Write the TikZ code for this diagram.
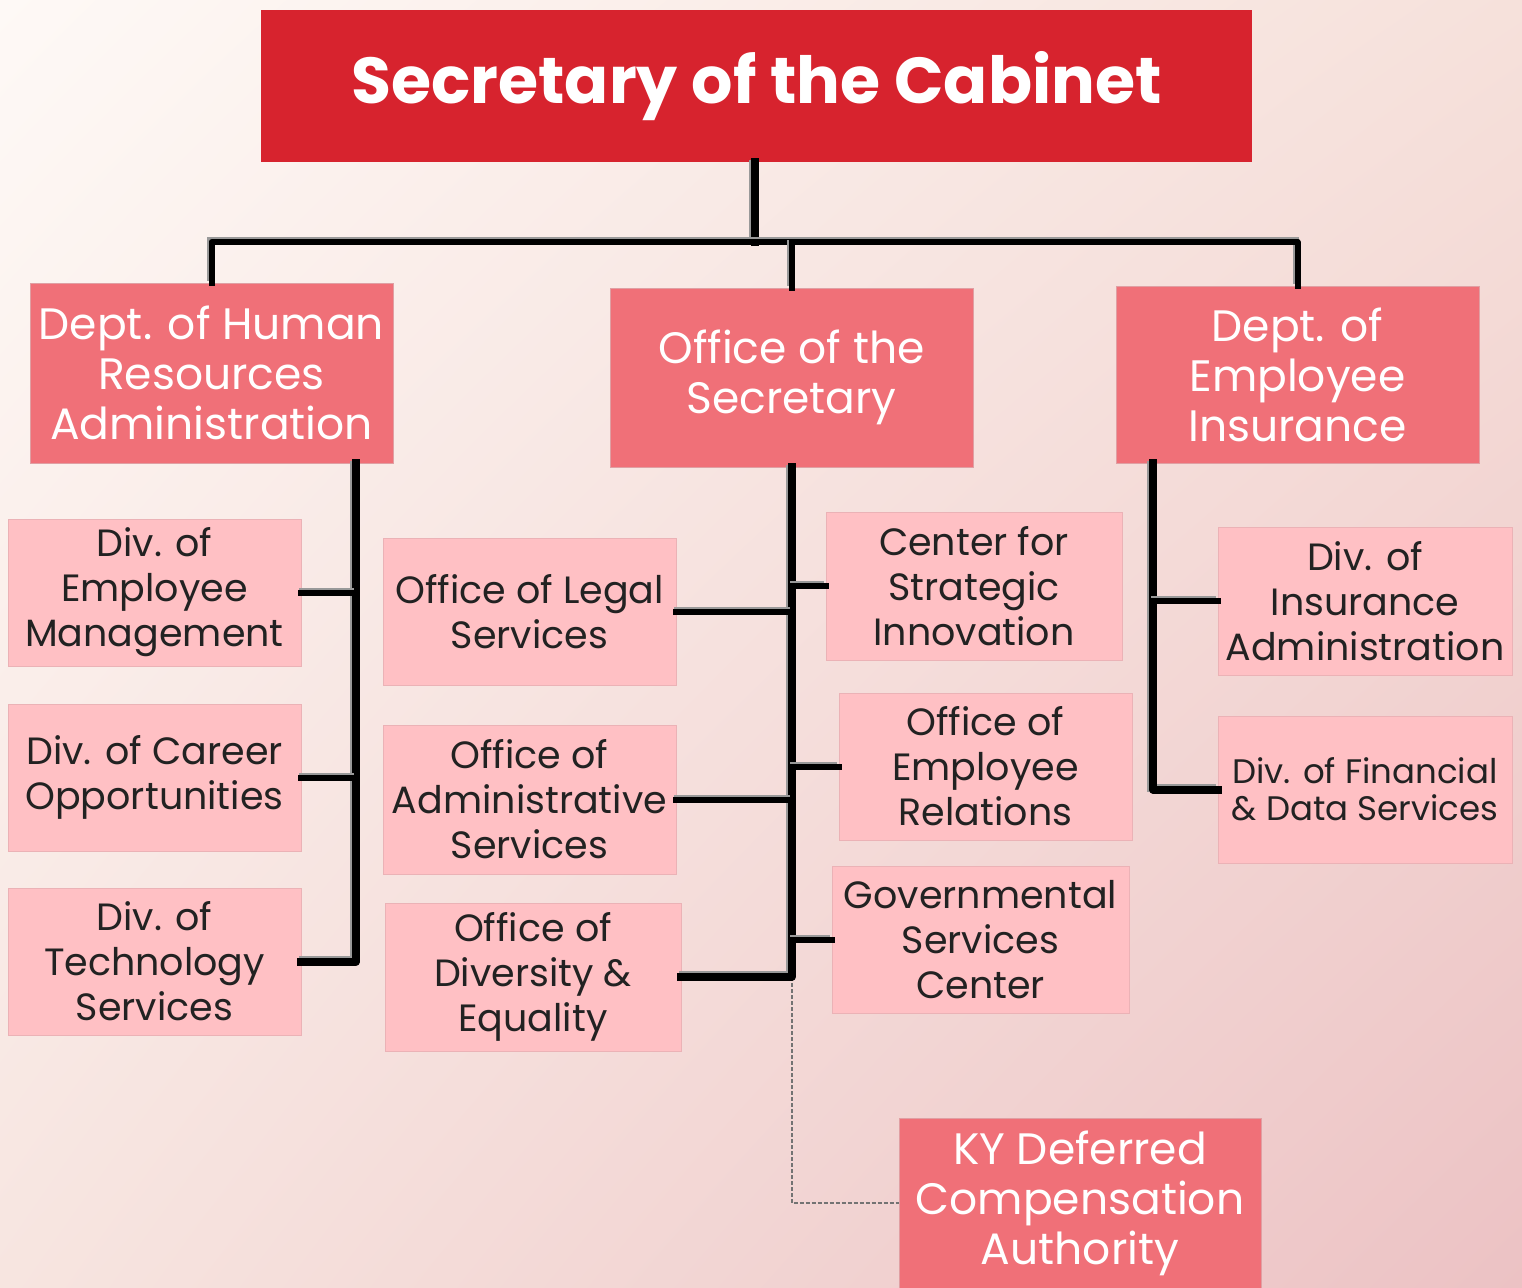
\documentclass[tikz,border=0pt]{standalone}
\usepackage{fontspec}
\setmainfont{Poppins}
\usetikzlibrary{calc,shadings}

\definecolor{bgTL}{HTML}{FEF9F6}
\definecolor{bgTR}{HTML}{F6E1DB}
\definecolor{bgBL}{HTML}{F7E5E0}
\definecolor{bgBR}{HTML}{ECC2C4}
\definecolor{headred}{HTML}{D7232E}
\definecolor{deptpink}{HTML}{F07078}
\definecolor{unitpink}{HTML}{FFC0C4}
\definecolor{unitedge}{HTML}{EBB2B6}
\definecolor{inktext}{HTML}{222222}

\tikzset{
  headbox/.style={fill=headred, text=white, inner sep=0pt, align=center,
    font=\bfseries\fontsize{32.5pt}{38pt}\selectfont},
  deptbox/.style={fill=deptpink, draw=deptpink!85!black!60, line width=0.4pt,
    text=white, inner sep=0pt, align=center,
    font=\fontsize{22pt}{25pt}\selectfont},
  unitbox/.style={fill=unitpink, draw=unitedge, line width=0.4pt,
    text=inktext, inner sep=0pt, align=center,
    font=\fontsize{19pt}{22.5pt}\selectfont},
  link/.style={draw=black, line width=3pt, line cap=rect, line join=round,
    preaction={draw=black!40, line width=3pt,
      transform canvas={xshift=-1pt, yshift=1pt}}},
  trunk/.style={link, line width=4pt,
    preaction={draw=black!40, line width=4pt,
      transform canvas={xshift=-1pt, yshift=1pt}}},
  dottedlink/.style={draw=black!55, line width=1pt, dash pattern=on 2pt off 1pt}
}

\begin{document}
\begin{tikzpicture}[x=0.5pt, y=-0.5pt]
  \useasboundingbox (0,0) rectangle (1522,1287);
  \shade[upper left=bgTL, upper right=bgTR, lower left=bgBL, lower right=bgBR]
    (0,0) rectangle (1522,1287);

  \begin{scope}
    \clip (0,0) rectangle (1522,1287);

    % head of the cabinet
    \node[headbox, minimum width=495.5pt, minimum height=76pt] (top) at (756.5,86)
      {Secretary of the Cabinet};

    % departments
    \node[deptbox, minimum width=181.5pt, minimum height=90pt] (hr) at (211.5,373)
      {Dept. of Human\\Resources\\Administration};
    \node[deptbox, minimum width=181.5pt, minimum height=89.5pt] (os) at (791.5,377.5)
      {Office of the\\Secretary};
    \node[deptbox, minimum width=181.5pt, minimum height=88.5pt] (dei) at (1297.5,374.5)
      {Dept. of\\Employee\\Insurance};

    % human resources divisions
    \node[unitbox, minimum width=146.5pt, minimum height=73.5pt] (emp) at (154.5,592.5)
      {Div. of\\Employee\\Management};
    \node[unitbox, minimum width=146.5pt, minimum height=73.5pt] (car) at (154.5,777.5)
      {Div. of Career\\Opportunities};
    \node[unitbox, minimum width=146.5pt, minimum height=73.5pt] (tec) at (154.5,961.5)
      {Div. of\\Technology\\Services};

    % offices under the secretary
    \node[unitbox, minimum width=146.5pt, minimum height=73.5pt] (leg) at (529.5,611.5)
      {Office of Legal\\Services};
    \node[unitbox, minimum width=146.5pt, minimum height=74.5pt] (adm) at (529.5,799.5)
      {Office of\\Administrative\\Services};
    \node[unitbox, minimum width=148pt, minimum height=74pt] (div) at (533,977)
      {Office of\\Diversity \&\\Equality};
    \node[unitbox, minimum width=148pt, minimum height=74pt] (csi) at (974,586)
      {Center for\\Strategic\\Innovation};
    \node[unitbox, minimum width=146.5pt, minimum height=73.5pt] (oer) at (985.5,766.5)
      {Office of\\Employee\\Relations};
    \node[unitbox, minimum width=148.5pt, minimum height=73.5pt] (gsc) at (980.5,939.5)
      {Governmental\\Services\\Center};

    % employee insurance divisions
    \node[unitbox, minimum width=147pt, minimum height=74pt] (ins) at (1365,601)
      {Div. of\\Insurance\\Administration};
    \node[unitbox, minimum width=147pt, minimum height=73.5pt,
      font=\fontsize{17pt}{18.5pt}\selectfont] (fin) at (1365,789.5)
      {Div. of Financial\\\& Data Services};

    % attached authority
    \node[deptbox, minimum width=181pt, minimum height=85pt] (ky) at (1080,1203)
      {KY Deferred\\Compensation\\Authority};

    % reporting lines
    \coordinate (bar) at (755,242);
    \coordinate (hrx) at (356,0);
    \coordinate (deix) at (1153,0);

    \draw[trunk] (top.south -| bar) -- (bar);
    \draw[link] (hr.north) |- (bar) -| (dei.north);
    \draw[link] (os.north) -- (os.north |- bar);

    \draw[trunk] (hr.south -| hrx) |- (tec.east);
    \draw[link] (emp.east) -- (emp.east -| hrx);
    \draw[link] (car.east) -- (car.east -| hrx);

    \draw[dottedlink] (div.east -| os.south) |- (ky.west);
    \draw[trunk] (os.south) |- (div.east);
    \draw[link] (leg.east) -- (leg.east -| os.south);
    \draw[link] (adm.east) -- (adm.east -| os.south);
    \draw[link] (csi.west) -- (csi.west -| os.south);
    \draw[link] (oer.west) -- (oer.west -| os.south);
    \draw[link] (gsc.west) -- (gsc.west -| os.south);

    \draw[trunk] (dei.south -| deix) |- (fin.west);
    \draw[link] (ins.west) -- (ins.west -| deix);
  \end{scope}
\end{tikzpicture}
\end{document}
